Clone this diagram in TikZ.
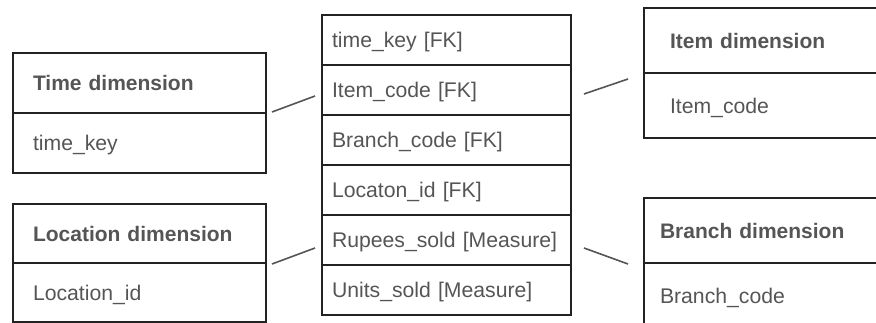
\documentclass[tikz,border=0pt]{standalone}
\usepackage{fontspec}
\setmainfont{Liberation Sans}
\definecolor{linec}{HTML}{222222}
\definecolor{txt}{HTML}{555555}
\definecolor{connc}{HTML}{555555}
\begin{document}
\begin{tikzpicture}[x=1pt,y=-1pt,
  cell/.style={draw=linec, line width=2pt, rectangle, anchor=north west,
    text=txt, font=\fontsize{21.2}{24}\selectfont, align=left,
    text height=20pt, text depth=4pt},
  head/.style={cell, font=\fontsize{21}{24}\selectfont\bfseries},
  conn/.style={draw=connc, line width=1.6pt}]
\useasboundingbox (0,0) rectangle (876,323);
\clip (0,0) rectangle (876,323);
% Time dimension
\node[head, inner xsep=20pt, text width=213pt, minimum height=60pt] (timeH) at (12,52) {Time dimension};
\node[cell, inner xsep=20pt, text width=213pt, minimum height=60pt] (timeK) at (12,112) {time\_key};
% Location dimension
\node[head, inner xsep=20pt, text width=213pt, minimum height=59pt] (locH) at (12,203) {Location dimension};
\node[cell, inner xsep=20pt, text width=213pt, minimum height=59pt] (locK) at (12,262) {Location\_id};
% Fact table
\foreach \i/\t in {0/time\_key [FK], 1/Item\_code [FK], 2/Branch\_code [FK], 3/Locaton\_id [FK], 4/Rupees\_sold [Measure], 5/Units\_sold [Measure]}{
  \node[cell, inner xsep=10pt, text width=229pt, minimum height=50pt] (f\i) at (321,14+50*\i) {\t};
}
% Item dimension
\node[head, inner xsep=26pt, text width=230pt, minimum height=65pt] (itemH) at (643,7) {Item dimension};
\node[cell, inner xsep=26pt, text width=230pt, minimum height=65pt] (itemK) at (643,72) {Item\_code};
% Branch dimension
\node[head, inner xsep=16pt, text width=240pt, minimum height=65pt] (brH) at (643,197) {Branch dimension};
\node[cell, inner xsep=16pt, text width=240pt, minimum height=65pt] (brK) at (643,262) {Branch\_code};
% connectors
\coordinate (c1a) at (272,112); \coordinate (c1b) at (315,96);
\coordinate (c2a) at (272,264); \coordinate (c2b) at (315,248);
\coordinate (c3a) at (584,94);  \coordinate (c3b) at (628,79);
\coordinate (c4a) at (584,248); \coordinate (c4b) at (628,264);
\draw[conn] (c1a) -- (c1b);
\draw[conn] (c2a) -- (c2b);
\draw[conn] (c3a) -- (c3b);
\draw[conn] (c4a) -- (c4b);
\end{tikzpicture}
\end{document}
